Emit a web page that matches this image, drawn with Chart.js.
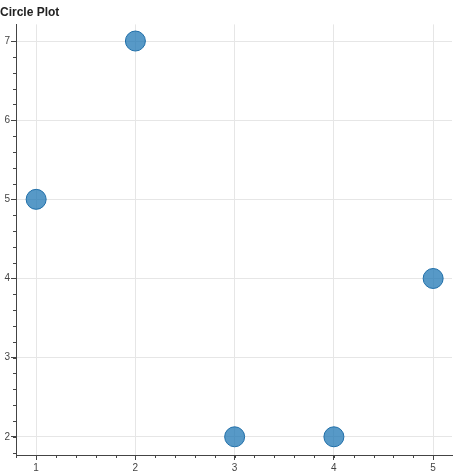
<!DOCTYPE html>
<html><head><meta charset="utf-8">
<script src="https://cdn.jsdelivr.net/npm/chart.js@4"></script>
<style>html,body{margin:0;padding:0;background:#fff}#w{width:474px;height:474px}</style>
</head><body><div id="w"><canvas id="c"></canvas></div>
<script>
const xValues=[1,2,3,4,5];
const yValues=[5,7,2,2,4];
const xTicks=[1,2,3,4,5];
const yTicks=[2,3,4,5,6,7];
const intOnly=list=>s=>{s.ticks=list.map(v=>({value:v}));};
const minor={id:'minor',afterDraw(ch){const c=ch.ctx,a=ch.chartArea,x=ch.scales.x,y=ch.scales.y;c.save();c.strokeStyle='#444';c.lineWidth=1;c.beginPath();
for(let v=0.8;v<=5.2;v+=0.2){const p=Math.round(x.getPixelForValue(v))+0.5;if(p<a.left||p>a.right)continue;c.moveTo(p,a.bottom);c.lineTo(p,a.bottom+3);}
for(let v=1.8;v<=7.2;v+=0.2){const p=Math.round(y.getPixelForValue(v))+0.5;if(p<a.top||p>a.bottom)continue;c.moveTo(a.left,p);c.lineTo(a.left-3,p);}
c.stroke();c.restore();}};
new Chart(document.getElementById('c'),{type:'scatter',
data:{datasets:[{data:xValues.map((x,i)=>({x,y:yValues[i]})),pointRadius:10,pointHoverRadius:10,backgroundColor:'rgba(31,119,180,0.75)',borderColor:'#1f6ea8',borderWidth:1}]},
options:{responsive:true,maintainAspectRatio:false,animation:false,
layout:{padding:{left:0,right:22,top:0,bottom:0}},
plugins:{legend:{display:false},tooltip:{enabled:false},
title:{display:true,text:'Circle Plot',align:'start',color:'#222',font:{family:'Liberation Sans, Arial',size:12,weight:'bold'},padding:{top:5,bottom:5,left:0}}},
scales:{
x:{type:'linear',min:0.797,max:5.19,afterBuildTicks:intOnly(xTicks),afterFit(s){s.height=19;},
grid:{color:'#e6e6e6',tickColor:'#444',tickLength:5},border:{color:'#444'},
ticks:{color:'#444',font:{family:'Liberation Sans, Arial',size:10},padding:2,maxRotation:0}},
y:{type:'linear',min:1.77,max:7.21,afterBuildTicks:intOnly(yTicks),afterFit(s){s.width=16;},
grid:{color:'#e6e6e6',tickColor:'#444',tickLength:5},border:{color:'#444'},
ticks:{color:'#444',font:{family:'Liberation Sans, Arial',size:10},padding:1}}}},
plugins:[minor]});
</script></body></html>
